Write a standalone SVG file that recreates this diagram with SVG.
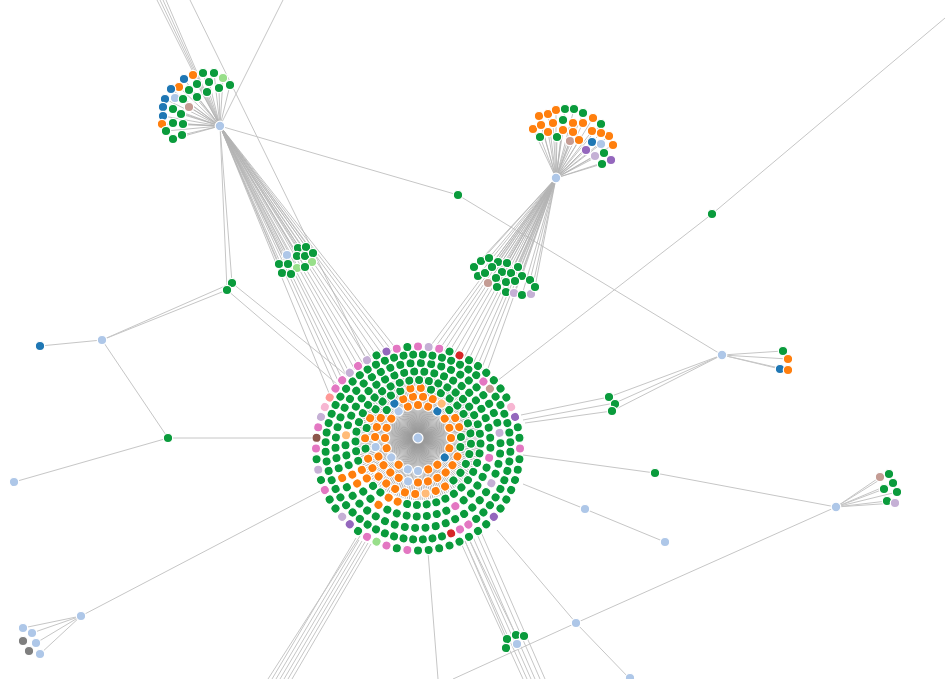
<svg xmlns="http://www.w3.org/2000/svg" xmlns:xlink="http://www.w3.org/1999/xlink" width="945" height="679" viewBox="0 0 945 679">
<style>
.e{stroke:#c6c6c6;stroke-width:1;fill:none}
.f{stroke:#b4b4b4;stroke-width:.8;fill:none}
circle{stroke:#fff;stroke-width:1.2}
.g{fill:#0a9b3c}.o{fill:#ff7f0e}.lo{fill:#ffbb78}.b{fill:#1f77b4}.lb{fill:#aec7e8}.lg{fill:#98df8a}
.r{fill:#d62728}.lr{fill:#ff9896}.pu{fill:#9467bd}.lp{fill:#c5b0d5}.br{fill:#8c564b}.lbr{fill:#c49c94}
.pk{fill:#e377c2}.lpk{fill:#f7b6d2}.gr{fill:#7f7f7f}
</style>
<defs>
<circle id="r1" cy="-33" r="4.6"/><circle id="r2" cy="-43" r="4.6"/><circle id="r3" cy="-53" r="4.6"/><circle id="r4" cy="-62.5" r="4.6"/>
<circle id="r5" cy="-72.5" r="4.6"/><circle id="r6" cy="-82.5" r="4.6"/><circle id="r7" cy="-92.5" r="4.6"/><circle id="r8" cy="-102" r="4.6"/>
<g id="s5" stroke="#999" stroke-width=".7"><line y2="-62"/><line y2="-62" transform="rotate(4)"/><line y2="-62" transform="rotate(8)"/><line y2="-62" transform="rotate(12)"/><line y2="-62" transform="rotate(16)"/></g>
</defs>
<rect width="945" height="679" fill="#fff"/>
<g id="connectors">
<g class="e">
<path d="M157 0L220 126M160 0L220 126M163 0L220 126M166 0L220 126M283 0L220 126M190 0L367 361"/>
<path d="M220 126L458 195L722 355M220 126L232 283M220 126L227 290M102 340L232 283M102 340L227 290M232 283L346 375M227 290L338 385"/>
<path d="M102 340L40 346M102 340L168 438L14 482M168 438L314 438M81 616L322 490M81 616L23 628M81 616L32 633M81 616L36 643M81 616L40 654"/>
<path d="M722 355L783 351M722 355L788 359M722 355L780 369M722 355L788 370M722 355L609 397L521 415M722 355L615 403L523 420M722 355L612 411L525 423"/>
<path d="M497 381L712 214L945 18M523 455L655 473L836 507M836 507L880 477M836 507L889 474M836 507L893 483M836 507L884 489M836 507L897 492M836 507L887 501M836 507L895 503"/>
<path d="M836 507L576 623L453 679M576 623L497 530M576 623L630 679M523 484L585 509L665 542M428 552L438 679"/>
<path d="M360 536L268 679M356 538L272 679M359 540L276 679M362 541L280 679M365 542L284 679M368 543L288 679M371 544L292 679"/>
<path d="M461 543L523 679M465 541L527 679M469 539L531 679M473 537L535 679M477 534L540 679M481 532L545 679M465 541L507 640M469 539L516 635"/>
</g>
<g class="f">
<path d="M220 126L331 398M220 126L336 389M220 126L340 385M220 126L343 381M220 126L347 377M220 126L350 374M220 126L355 370M220 126L359 367M220 126L363 364M220 126L368 361M220 126L372 359M220 126L377 356M220 126L382 354M220 126L387 352M220 126L392 351M220 126L397 350"/>
<path d="M220 126L287 255M220 126L298 248M220 126L306 247M220 126L297 256M220 126L305 256M220 126L313 253M220 126L312 262M220 126L279 264M220 126L288 264M220 126L297 268M220 126L305 267M220 126L282 273M220 126L291 274"/>
<path d="M220 126L193 75M220 126L203 73M220 126L214 73M220 126L223 78M220 126L184 79M220 126L197 84M220 126L209 82M220 126L230 85M220 126L179 87M220 126L171 89M220 126L189 90M220 126L207 92M220 126L219 88M220 126L165 99M220 126L175 98M220 126L183 99M220 126L197 97M220 126L189 107M220 126L163 107M220 126L173 109M220 126L163 116M220 126L181 114M220 126L173 123M220 126L162 124M220 126L183 124M220 126L166 131M220 126L173 139M220 126L182 135"/>
<path d="M556 178L429 348M556 178L434 349M556 178L439 350M556 178L444 351M556 178L449 352M556 178L454 354M556 178L459 356M556 178L464 358M556 178L468 361M556 178L473 364M556 178L477 367M556 178L481 370M556 178L486 374"/>
<path d="M556 178L474 267M556 178L481 261M556 178L489 258M556 178L498 262M556 178L507 263M556 178L518 267M556 178L478 276M556 178L485 273M556 178L492 267M556 178L502 272M556 178L511 273M556 178L522 276M556 178L530 280M556 178L488 283M556 178L496 278M556 178L506 282M556 178L515 281M556 178L497 287M556 178L506 292M556 178L514 293M556 178L522 295M556 178L531 294M556 178L535 287"/>
<path d="M556 178L539 116M556 178L548 114M556 178L556 110M556 178L565 109M556 178L574 109M556 178L583 113M556 178L593 118M556 178L601 124M556 178L609 136M556 178L613 145M556 178L533 129M556 178L541 125M556 178L553 123M556 178L563 120M556 178L573 123M556 178L583 123M556 178L592 131M556 178L601 133M556 178L540 137M556 178L548 132M556 178L557 137M556 178L563 130M556 178L573 132M556 178L570 141M556 178L579 140M556 178L592 142M556 178L601 144M556 178L586 150M556 178L595 156M556 178L604 153M556 178L611 160M556 178L602 164"/>
</g>
</g>
<g id="hub-spokes" transform="translate(418 438)">
<use href="#s5"/><use href="#s5" transform="rotate(20)"/><use href="#s5" transform="rotate(40)"/><use href="#s5" transform="rotate(60)"/><use href="#s5" transform="rotate(80)"/><use href="#s5" transform="rotate(100)"/><use href="#s5" transform="rotate(120)"/><use href="#s5" transform="rotate(140)"/><use href="#s5" transform="rotate(160)"/><use href="#s5" transform="rotate(180)"/><use href="#s5" transform="rotate(200)"/><use href="#s5" transform="rotate(220)"/><use href="#s5" transform="rotate(240)"/><use href="#s5" transform="rotate(260)"/><use href="#s5" transform="rotate(280)"/><use href="#s5" transform="rotate(300)"/><use href="#s5" transform="rotate(320)"/><use href="#s5" transform="rotate(340)"/>
<g transform="rotate(2)"><use href="#s5"/><use href="#s5" transform="rotate(20)"/><use href="#s5" transform="rotate(40)"/><use href="#s5" transform="rotate(60)"/><use href="#s5" transform="rotate(80)"/><use href="#s5" transform="rotate(100)"/><use href="#s5" transform="rotate(120)"/><use href="#s5" transform="rotate(140)"/><use href="#s5" transform="rotate(160)"/><use href="#s5" transform="rotate(180)"/><use href="#s5" transform="rotate(200)"/><use href="#s5" transform="rotate(220)"/><use href="#s5" transform="rotate(240)"/><use href="#s5" transform="rotate(260)"/><use href="#s5" transform="rotate(280)"/><use href="#s5" transform="rotate(300)"/><use href="#s5" transform="rotate(320)"/><use href="#s5" transform="rotate(340)"/></g>
</g>
<g id="cluster-main">
<g id="ring1" transform="translate(418 438)" fill="#0a9b3c">
<use href="#r1" class="o"/><use href="#r1" class="o" transform="rotate(18)"/><use href="#r1" class="b" transform="rotate(36)"/><use href="#r1" class="o" transform="rotate(54)"/><use href="#r1" class="o" transform="rotate(72)"/><use href="#r1" class="o" transform="rotate(90)"/><use href="#r1" class="o" transform="rotate(108)"/><use href="#r1" class="b" transform="rotate(126)"/><use href="#r1" class="o" transform="rotate(144)"/><use href="#r1" class="o" transform="rotate(162)"/><use href="#r1" class="lb" transform="rotate(180)"/><use href="#r1" class="lb" transform="rotate(198)"/><use href="#r1" class="o" transform="rotate(216)"/><use href="#r1" class="lb" transform="rotate(234)"/><use href="#r1" class="o" transform="rotate(252)"/><use href="#r1" class="o" transform="rotate(270)"/><use href="#r1" class="o" transform="rotate(288)"/><use href="#r1" class="o" transform="rotate(306)"/><use href="#r1" class="lb" transform="rotate(324)"/><use href="#r1" class="o" transform="rotate(342)"/>
</g>
<g id="ring2" transform="translate(418 439.5)" fill="#0a9b3c">
<use href="#r2" class="o" transform="rotate(6.7)"/><use href="#r2" class="o" transform="rotate(20)"/><use href="#r2" class="lo" transform="rotate(33.3)"/><use href="#r2" transform="rotate(46.7)"/><use href="#r2" class="o" transform="rotate(60)"/><use href="#r2" class="o" transform="rotate(73.3)"/><use href="#r2" transform="rotate(86.7)"/><use href="#r2" transform="rotate(100)"/><use href="#r2" class="o" transform="rotate(113.3)"/><use href="#r2" class="o" transform="rotate(126.7)"/><use href="#r2" class="o" transform="rotate(140)"/><use href="#r2" class="o" transform="rotate(153.3)"/><use href="#r2" class="o" transform="rotate(166.7)"/><use href="#r2" class="o" transform="rotate(180)"/><use href="#r2" class="lb" transform="rotate(193.3)"/><use href="#r2" class="o" transform="rotate(206.7)"/><use href="#r2" class="o" transform="rotate(220)"/><use href="#r2" class="o" transform="rotate(233.3)"/><use href="#r2" class="o" transform="rotate(246.7)"/><use href="#r2" class="lb" transform="rotate(260)"/><use href="#r2" class="o" transform="rotate(273.3)"/><use href="#r2" class="o" transform="rotate(286.7)"/><use href="#r2" class="o" transform="rotate(300)"/><use href="#r2" transform="rotate(313.3)"/><use href="#r2" class="b" transform="rotate(326.7)"/><use href="#r2" class="o" transform="rotate(340)"/><use href="#r2" class="o" transform="rotate(353.3)"/>
</g>
<g id="ring3" transform="translate(418 441)" fill="#0a9b3c">
<use href="#r3" class="o" transform="rotate(3)"/><use href="#r3" transform="rotate(14.25)"/><use href="#r3" transform="rotate(25.5)"/><use href="#r3" transform="rotate(36.75)"/><use href="#r3" transform="rotate(48)"/><use href="#r3" transform="rotate(59.25)"/><use href="#r3" transform="rotate(70.5)"/><use href="#r3" transform="rotate(81.75)"/><use href="#r3" transform="rotate(93)"/><use href="#r3" transform="rotate(104.25)"/><use href="#r3" transform="rotate(115.5)"/><use href="#r3" transform="rotate(126.75)"/><use href="#r3" transform="rotate(138)"/><use href="#r3" class="o" transform="rotate(149.25)"/><use href="#r3" class="o" transform="rotate(160.5)"/><use href="#r3" class="lo" transform="rotate(171.75)"/><use href="#r3" class="o" transform="rotate(183)"/><use href="#r3" class="o" transform="rotate(194.25)"/><use href="#r3" class="o" transform="rotate(205.5)"/><use href="#r3" class="o" transform="rotate(216.75)"/><use href="#r3" class="o" transform="rotate(228)"/><use href="#r3" class="o" transform="rotate(239.25)"/><use href="#r3" class="o" transform="rotate(250.5)"/><use href="#r3" transform="rotate(261.75)"/><use href="#r3" class="o" transform="rotate(273)"/><use href="#r3" transform="rotate(284.25)"/><use href="#r3" class="o" transform="rotate(295.5)"/><use href="#r3" transform="rotate(306.75)"/><use href="#r3" transform="rotate(318)"/><use href="#r3" transform="rotate(329.25)"/><use href="#r3" transform="rotate(340.5)"/><use href="#r3" class="o" transform="rotate(351.75)"/>
</g>
<g id="ring4" transform="translate(418 442.5)" fill="#0a9b3c">
<use href="#r4" transform="rotate(1)"/><use href="#r4" transform="rotate(10)"/><use href="#r4" transform="rotate(19)"/><use href="#r4" transform="rotate(28)"/><use href="#r4" transform="rotate(37)"/><use href="#r4" transform="rotate(46)"/><use href="#r4" transform="rotate(55)"/><use href="#r4" transform="rotate(64)"/><use href="#r4" transform="rotate(73)"/><use href="#r4" transform="rotate(82)"/><use href="#r4" transform="rotate(91)"/><use href="#r4" transform="rotate(100)"/><use href="#r4" transform="rotate(109)"/><use href="#r4" transform="rotate(118)"/><use href="#r4" transform="rotate(127)"/><use href="#r4" transform="rotate(136)"/><use href="#r4" transform="rotate(145)"/><use href="#r4" transform="rotate(154)"/><use href="#r4" transform="rotate(163)"/><use href="#r4" transform="rotate(172)"/><use href="#r4" transform="rotate(181)"/><use href="#r4" transform="rotate(190)"/><use href="#r4" class="o" transform="rotate(199)"/><use href="#r4" class="o" transform="rotate(208)"/><use href="#r4" transform="rotate(217)"/><use href="#r4" transform="rotate(226)"/><use href="#r4" class="o" transform="rotate(235)"/><use href="#r4" class="o" transform="rotate(244)"/><use href="#r4" transform="rotate(253)"/><use href="#r4" transform="rotate(262)"/><use href="#r4" transform="rotate(271)"/><use href="#r4" transform="rotate(280)"/><use href="#r4" transform="rotate(289)"/><use href="#r4" transform="rotate(298)"/><use href="#r4" transform="rotate(307)"/><use href="#r4" transform="rotate(316)"/><use href="#r4" transform="rotate(325)"/><use href="#r4" transform="rotate(334)"/><use href="#r4" transform="rotate(343)"/><use href="#r4" transform="rotate(352)"/>
</g>
<g id="ring5" transform="translate(418 444)" fill="#0a9b3c">
<use href="#r5" transform="rotate(5)"/><use href="#r5" transform="rotate(13)"/><use href="#r5" transform="rotate(21)"/><use href="#r5" transform="rotate(29)"/><use href="#r5" transform="rotate(37)"/><use href="#r5" transform="rotate(45)"/><use href="#r5" transform="rotate(53)"/><use href="#r5" transform="rotate(61)"/><use href="#r5" transform="rotate(69)"/><use href="#r5" transform="rotate(77)"/><use href="#r5" transform="rotate(85)"/><use href="#r5" transform="rotate(93)"/><use href="#r5" class="pk" transform="rotate(101)"/><use href="#r5" transform="rotate(109)"/><use href="#r5" transform="rotate(117)"/><use href="#r5" transform="rotate(125)"/><use href="#r5" transform="rotate(133)"/><use href="#r5" transform="rotate(141)"/><use href="#r5" class="pk" transform="rotate(149)"/><use href="#r5" transform="rotate(157)"/><use href="#r5" transform="rotate(165)"/><use href="#r5" transform="rotate(173)"/><use href="#r5" transform="rotate(181)"/><use href="#r5" transform="rotate(189)"/><use href="#r5" transform="rotate(197)"/><use href="#r5" transform="rotate(205)"/><use href="#r5" class="o" transform="rotate(213)"/><use href="#r5" transform="rotate(221)"/><use href="#r5" transform="rotate(229)"/><use href="#r5" class="o" transform="rotate(237)"/><use href="#r5" class="o" transform="rotate(245)"/><use href="#r5" transform="rotate(253)"/><use href="#r5" transform="rotate(261)"/><use href="#r5" transform="rotate(269)"/><use href="#r5" class="lo" transform="rotate(277)"/><use href="#r5" transform="rotate(285)"/><use href="#r5" transform="rotate(293)"/><use href="#r5" transform="rotate(301)"/><use href="#r5" transform="rotate(309)"/><use href="#r5" transform="rotate(317)"/><use href="#r5" transform="rotate(325)"/><use href="#r5" transform="rotate(333)"/><use href="#r5" transform="rotate(341)"/><use href="#r5" transform="rotate(349)"/><use href="#r5" transform="rotate(357)"/>
</g>
<g id="ring6" transform="translate(418 445.5)" fill="#0a9b3c">
<use href="#r6" transform="rotate(2)"/><use href="#r6" transform="rotate(9.2)"/><use href="#r6" transform="rotate(16.4)"/><use href="#r6" transform="rotate(23.6)"/><use href="#r6" transform="rotate(30.8)"/><use href="#r6" transform="rotate(38)"/><use href="#r6" transform="rotate(45.2)"/><use href="#r6" transform="rotate(52.4)"/><use href="#r6" transform="rotate(59.6)"/><use href="#r6" transform="rotate(66.8)"/><use href="#r6" transform="rotate(74)"/><use href="#r6" class="lp" transform="rotate(81.2)"/><use href="#r6" transform="rotate(88.4)"/><use href="#r6" transform="rotate(95.6)"/><use href="#r6" transform="rotate(102.8)"/><use href="#r6" transform="rotate(110)"/><use href="#r6" class="lp" transform="rotate(117.2)"/><use href="#r6" transform="rotate(124.4)"/><use href="#r6" transform="rotate(131.6)"/><use href="#r6" transform="rotate(138.8)"/><use href="#r6" transform="rotate(146)"/><use href="#r6" transform="rotate(153.2)"/><use href="#r6" transform="rotate(160.4)"/><use href="#r6" transform="rotate(167.6)"/><use href="#r6" transform="rotate(174.8)"/><use href="#r6" transform="rotate(182)"/><use href="#r6" transform="rotate(189.2)"/><use href="#r6" transform="rotate(196.4)"/><use href="#r6" transform="rotate(203.6)"/><use href="#r6" transform="rotate(210.8)"/><use href="#r6" transform="rotate(218)"/><use href="#r6" transform="rotate(225.2)"/><use href="#r6" transform="rotate(232.4)"/><use href="#r6" transform="rotate(239.6)"/><use href="#r6" class="o" transform="rotate(246.8)"/><use href="#r6" transform="rotate(254)"/><use href="#r6" transform="rotate(261.2)"/><use href="#r6" transform="rotate(268.4)"/><use href="#r6" transform="rotate(275.6)"/><use href="#r6" transform="rotate(282.8)"/><use href="#r6" transform="rotate(290)"/><use href="#r6" transform="rotate(297.2)"/><use href="#r6" transform="rotate(304.4)"/><use href="#r6" transform="rotate(311.6)"/><use href="#r6" transform="rotate(318.8)"/><use href="#r6" transform="rotate(326)"/><use href="#r6" transform="rotate(333.2)"/><use href="#r6" transform="rotate(340.4)"/><use href="#r6" transform="rotate(347.6)"/><use href="#r6" transform="rotate(354.8)"/>
</g>
<g id="ring7" transform="translate(418 447)" fill="#0a9b3c">
<use href="#r7" transform="rotate(3)"/><use href="#r7" transform="rotate(9)"/><use href="#r7" transform="rotate(15)"/><use href="#r7" transform="rotate(21)"/><use href="#r7" transform="rotate(27)"/><use href="#r7" transform="rotate(33)"/><use href="#r7" transform="rotate(39)"/><use href="#r7" class="pk" transform="rotate(45)"/><use href="#r7" class="lbr" transform="rotate(51)"/><use href="#r7" transform="rotate(57)"/><use href="#r7" transform="rotate(63)"/><use href="#r7" transform="rotate(69)"/><use href="#r7" transform="rotate(75)"/><use href="#r7" transform="rotate(81)"/><use href="#r7" transform="rotate(87)"/><use href="#r7" transform="rotate(93)"/><use href="#r7" transform="rotate(99)"/><use href="#r7" transform="rotate(105)"/><use href="#r7" transform="rotate(111)"/><use href="#r7" transform="rotate(117)"/><use href="#r7" transform="rotate(123)"/><use href="#r7" transform="rotate(129)"/><use href="#r7" transform="rotate(135)"/><use href="#r7" transform="rotate(141)"/><use href="#r7" class="pk" transform="rotate(147)"/><use href="#r7" class="pk" transform="rotate(153)"/><use href="#r7" class="r" transform="rotate(159)"/><use href="#r7" transform="rotate(165)"/><use href="#r7" transform="rotate(171)"/><use href="#r7" transform="rotate(177)"/><use href="#r7" transform="rotate(183)"/><use href="#r7" transform="rotate(189)"/><use href="#r7" transform="rotate(195)"/><use href="#r7" transform="rotate(201)"/><use href="#r7" transform="rotate(207)"/><use href="#r7" transform="rotate(213)"/><use href="#r7" transform="rotate(219)"/><use href="#r7" transform="rotate(225)"/><use href="#r7" transform="rotate(231)"/><use href="#r7" transform="rotate(237)"/><use href="#r7" transform="rotate(243)"/><use href="#r7" transform="rotate(249)"/><use href="#r7" transform="rotate(255)"/><use href="#r7" transform="rotate(261)"/><use href="#r7" transform="rotate(267)"/><use href="#r7" transform="rotate(273)"/><use href="#r7" transform="rotate(279)"/><use href="#r7" transform="rotate(285)"/><use href="#r7" transform="rotate(291)"/><use href="#r7" transform="rotate(297)"/><use href="#r7" transform="rotate(303)"/><use href="#r7" transform="rotate(309)"/><use href="#r7" transform="rotate(315)"/><use href="#r7" transform="rotate(321)"/><use href="#r7" transform="rotate(327)"/><use href="#r7" transform="rotate(333)"/><use href="#r7" transform="rotate(339)"/><use href="#r7" transform="rotate(345)"/><use href="#r7" transform="rotate(351)"/><use href="#r7" transform="rotate(357)"/>
</g>
<g id="ring8" transform="translate(418 448.5)" fill="#0a9b3c">
<use href="#r8" class="pk"/><use href="#r8" class="lp" transform="rotate(6)"/><use href="#r8" class="pk" transform="rotate(12)"/><use href="#r8" transform="rotate(18)"/><use href="#r8" class="r" transform="rotate(24)"/><use href="#r8" transform="rotate(30)"/><use href="#r8" transform="rotate(36)"/><use href="#r8" transform="rotate(42)"/><use href="#r8" transform="rotate(48)"/><use href="#r8" transform="rotate(54)"/><use href="#r8" transform="rotate(60)"/><use href="#r8" class="lpk" transform="rotate(66)"/><use href="#r8" class="pu" transform="rotate(72)"/><use href="#r8" transform="rotate(78)"/><use href="#r8" transform="rotate(84)"/><use href="#r8" class="pk" transform="rotate(90)"/><use href="#r8" transform="rotate(96)"/><use href="#r8" transform="rotate(102)"/><use href="#r8" transform="rotate(108)"/><use href="#r8" transform="rotate(114)"/><use href="#r8" transform="rotate(120)"/><use href="#r8" transform="rotate(126)"/><use href="#r8" class="pu" transform="rotate(132)"/><use href="#r8" transform="rotate(138)"/><use href="#r8" transform="rotate(144)"/><use href="#r8" transform="rotate(150)"/><use href="#r8" transform="rotate(156)"/><use href="#r8" transform="rotate(162)"/><use href="#r8" transform="rotate(168)"/><use href="#r8" transform="rotate(174)"/><use href="#r8" transform="rotate(180)"/><use href="#r8" class="pk" transform="rotate(186)"/><use href="#r8" transform="rotate(192)"/><use href="#r8" class="pk" transform="rotate(198)"/><use href="#r8" class="lg" transform="rotate(204)"/><use href="#r8" class="pk" transform="rotate(210)"/><use href="#r8" transform="rotate(216)"/><use href="#r8" class="pu" transform="rotate(222)"/><use href="#r8" class="lp" transform="rotate(228)"/><use href="#r8" transform="rotate(234)"/><use href="#r8" transform="rotate(240)"/><use href="#r8" class="pk" transform="rotate(246)"/><use href="#r8" transform="rotate(252)"/><use href="#r8" class="lp" transform="rotate(258)"/><use href="#r8" transform="rotate(264)"/><use href="#r8" class="pk" transform="rotate(270)"/><use href="#r8" class="br" transform="rotate(276)"/><use href="#r8" class="pk" transform="rotate(282)"/><use href="#r8" class="lp" transform="rotate(288)"/><use href="#r8" class="lpk" transform="rotate(294)"/><use href="#r8" class="lr" transform="rotate(300)"/><use href="#r8" class="pk" transform="rotate(306)"/><use href="#r8" class="pk" transform="rotate(312)"/><use href="#r8" class="lp" transform="rotate(318)"/><use href="#r8" class="pk" transform="rotate(324)"/><use href="#r8" class="lp" transform="rotate(330)"/><use href="#r8" transform="rotate(336)"/><use href="#r8" class="pu" transform="rotate(342)"/><use href="#r8" class="pk" transform="rotate(348)"/><use href="#r8" transform="rotate(354)"/>
</g>
<g id="hub-main"><circle class="lb" cx="418" cy="438" r="5"/></g>
</g>
<g id="cluster-a">
<circle class="o" cx="193" cy="75" r="4.7"/><circle class="g" cx="203" cy="73" r="4.7"/><circle class="g" cx="214" cy="73" r="4.7"/><circle class="lg" cx="223" cy="78" r="4.7"/><circle class="b" cx="184" cy="79" r="4.7"/><circle class="g" cx="197" cy="84" r="4.7"/><circle class="g" cx="209" cy="82" r="4.7"/><circle class="g" cx="230" cy="85" r="4.7"/><circle class="o" cx="179" cy="87" r="4.7"/><circle class="b" cx="171" cy="89" r="4.7"/><circle class="g" cx="189" cy="90" r="4.7"/><circle class="g" cx="207" cy="92" r="4.7"/><circle class="g" cx="219" cy="88" r="4.7"/><circle class="b" cx="165" cy="99" r="4.7"/><circle class="lb" cx="175" cy="98" r="4.7"/><circle class="g" cx="183" cy="99" r="4.7"/><circle class="g" cx="197" cy="97" r="4.7"/><circle class="lbr" cx="189" cy="107" r="4.7"/><circle class="b" cx="163" cy="107" r="4.7"/><circle class="g" cx="173" cy="109" r="4.7"/><circle class="b" cx="163" cy="116" r="4.7"/><circle class="g" cx="181" cy="114" r="4.7"/><circle class="g" cx="173" cy="123" r="4.7"/><circle class="o" cx="162" cy="124" r="4.7"/><circle class="g" cx="183" cy="124" r="4.7"/><circle class="g" cx="166" cy="131" r="4.7"/><circle class="g" cx="173" cy="139" r="4.7"/><circle class="g" cx="182" cy="135" r="4.7"/>
<g id="hub-a"><circle class="lb" cx="220" cy="126" r="4.8"/></g>
</g>
<g id="cluster-b">
<circle class="o" cx="539" cy="116" r="4.7"/><circle class="o" cx="548" cy="114" r="4.7"/><circle class="o" cx="556" cy="110" r="4.7"/><circle class="g" cx="565" cy="109" r="4.7"/><circle class="g" cx="574" cy="109" r="4.7"/><circle class="g" cx="583" cy="113" r="4.7"/><circle class="o" cx="593" cy="118" r="4.7"/><circle class="g" cx="601" cy="124" r="4.7"/><circle class="o" cx="609" cy="136" r="4.7"/><circle class="o" cx="613" cy="145" r="4.7"/><circle class="o" cx="533" cy="129" r="4.7"/><circle class="o" cx="541" cy="125" r="4.7"/><circle class="o" cx="553" cy="123" r="4.7"/><circle class="g" cx="563" cy="120" r="4.7"/><circle class="o" cx="573" cy="123" r="4.7"/><circle class="o" cx="583" cy="123" r="4.7"/><circle class="o" cx="592" cy="131" r="4.7"/><circle class="o" cx="601" cy="133" r="4.7"/><circle class="g" cx="540" cy="137" r="4.7"/><circle class="o" cx="548" cy="132" r="4.7"/><circle class="g" cx="557" cy="137" r="4.7"/><circle class="o" cx="563" cy="130" r="4.7"/><circle class="o" cx="573" cy="132" r="4.7"/><circle class="lbr" cx="570" cy="141" r="4.7"/><circle class="o" cx="579" cy="140" r="4.7"/><circle class="b" cx="592" cy="142" r="4.7"/><circle class="lb" cx="601" cy="144" r="4.7"/><circle class="pu" cx="586" cy="150" r="4.7"/><circle class="lp" cx="595" cy="156" r="4.7"/><circle class="g" cx="604" cy="153" r="4.7"/><circle class="pu" cx="611" cy="160" r="4.7"/><circle class="g" cx="602" cy="164" r="4.7"/>
<g id="hub-b"><circle class="lb" cx="556" cy="178" r="4.8"/></g>
</g>
<g id="cluster-s1">
<circle class="lb" cx="287" cy="255" r="4.7"/><circle class="g" cx="298" cy="248" r="4.7"/><circle class="g" cx="306" cy="247" r="4.7"/><circle class="g" cx="297" cy="256" r="4.7"/><circle class="g" cx="305" cy="256" r="4.7"/><circle class="g" cx="313" cy="253" r="4.7"/><circle class="lg" cx="312" cy="262" r="4.7"/><circle class="g" cx="279" cy="264" r="4.7"/><circle class="g" cx="288" cy="264" r="4.7"/><circle class="lg" cx="297" cy="268" r="4.7"/><circle class="g" cx="305" cy="267" r="4.7"/><circle class="g" cx="282" cy="273" r="4.7"/><circle class="g" cx="291" cy="274" r="4.7"/>
</g>
<g id="cluster-s2">
<circle class="g" cx="474" cy="267" r="4.7"/><circle class="g" cx="481" cy="261" r="4.7"/><circle class="g" cx="489" cy="258" r="4.7"/><circle class="g" cx="498" cy="262" r="4.7"/><circle class="g" cx="507" cy="263" r="4.7"/><circle class="g" cx="518" cy="267" r="4.7"/><circle class="g" cx="478" cy="276" r="4.7"/><circle class="g" cx="485" cy="273" r="4.7"/><circle class="g" cx="492" cy="267" r="4.7"/><circle class="g" cx="502" cy="272" r="4.7"/><circle class="g" cx="511" cy="273" r="4.7"/><circle class="g" cx="522" cy="276" r="4.7"/><circle class="g" cx="530" cy="280" r="4.7"/><circle class="lbr" cx="488" cy="283" r="4.7"/><circle class="g" cx="496" cy="278" r="4.7"/><circle class="g" cx="506" cy="282" r="4.7"/><circle class="g" cx="515" cy="281" r="4.7"/><circle class="g" cx="497" cy="287" r="4.7"/><circle class="g" cx="506" cy="292" r="4.7"/><circle class="lp" cx="514" cy="293" r="4.7"/><circle class="g" cx="522" cy="295" r="4.7"/><circle class="lp" cx="531" cy="294" r="4.7"/><circle class="g" cx="535" cy="287" r="4.7"/>
</g>
<g id="cluster-s3">
<circle class="g" cx="507" cy="639" r="4.7"/><circle class="g" cx="516" cy="635" r="4.7"/><circle class="g" cx="524" cy="636" r="4.7"/><circle class="g" cx="506" cy="648" r="4.7"/><circle class="lb" cx="517" cy="644" r="4.7"/>
</g>
<g id="hub-c">
<circle class="lb" cx="722" cy="355" r="4.8"/>
<circle class="g" cx="783" cy="351" r="4.7"/><circle class="o" cx="788" cy="359" r="4.7"/><circle class="b" cx="780" cy="369" r="4.7"/><circle class="o" cx="788" cy="370" r="4.7"/>
</g>
<g id="hub-d">
<circle class="lb" cx="836" cy="507" r="4.8"/>
<circle class="lbr" cx="880" cy="477" r="4.7"/><circle class="g" cx="889" cy="474" r="4.7"/><circle class="g" cx="893" cy="483" r="4.7"/><circle class="g" cx="884" cy="489" r="4.7"/><circle class="g" cx="897" cy="492" r="4.7"/><circle class="g" cx="887" cy="501" r="4.7"/><circle class="lp" cx="895" cy="503" r="4.7"/>
</g>
<g id="hub-e">
<circle class="lb" cx="81" cy="616" r="4.7"/>
<circle class="lb" cx="23" cy="628" r="4.7"/><circle class="lb" cx="32" cy="633" r="4.7"/><circle class="gr" cx="23" cy="641" r="4.7"/><circle class="lb" cx="36" cy="643" r="4.7"/><circle class="gr" cx="29" cy="651" r="4.7"/><circle class="lb" cx="40" cy="654" r="4.7"/>
</g>
<g id="n-green-3"><circle class="g" cx="609" cy="397" r="4.7"/><circle class="g" cx="615" cy="404" r="4.7"/><circle class="g" cx="612" cy="411" r="4.7"/></g>
<g id="n458"><circle class="g" cx="458" cy="195" r="4.7"/></g>
<g id="n712"><circle class="g" cx="712" cy="214" r="4.7"/></g>
<g id="n655"><circle class="g" cx="655" cy="473" r="4.7"/></g>
<g id="n585"><circle class="lb" cx="585" cy="509" r="4.7"/></g>
<g id="n665"><circle class="lb" cx="665" cy="542" r="4.7"/></g>
<g id="n576"><circle class="lb" cx="576" cy="623" r="4.7"/></g>
<g id="n630"><circle class="lb" cx="630" cy="678" r="4.7"/></g>
<g id="n232"><circle class="g" cx="232" cy="283" r="4.7"/><circle class="g" cx="227" cy="290" r="4.7"/></g>
<g id="n102"><circle class="lb" cx="102" cy="340" r="4.7"/></g>
<g id="n40"><circle class="b" cx="40" cy="346" r="4.7"/></g>
<g id="n168"><circle class="g" cx="168" cy="438" r="4.7"/></g>
<g id="n14"><circle class="lb" cx="14" cy="482" r="4.7"/></g>
</svg>
